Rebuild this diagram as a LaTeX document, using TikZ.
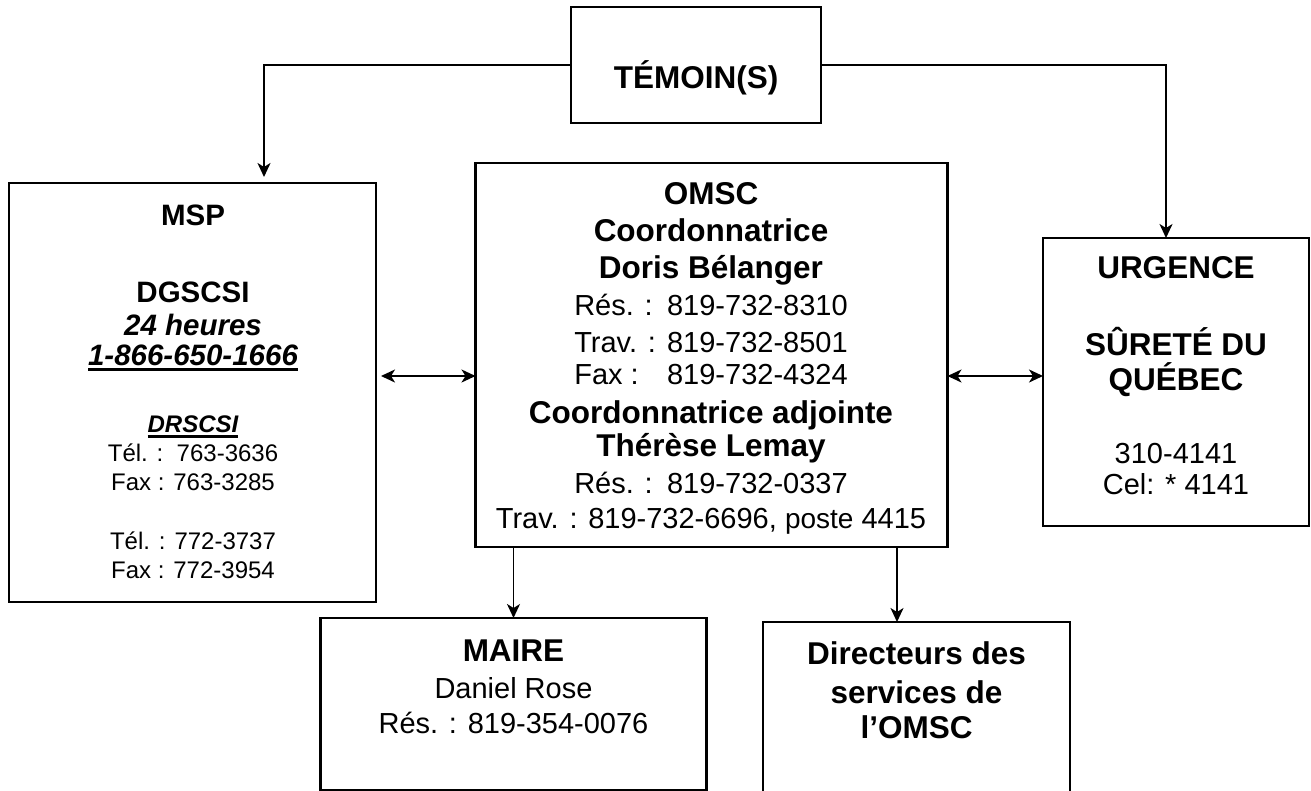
\documentclass[tikz,border=0pt]{standalone}
\usepackage{fontspec}
\setmainfont{Liberation Sans}
\usetikzlibrary{arrows.meta}
\newcommand\myul[1]{\setbox0\hbox{#1}\rlap{\rule[-5.5pt]{\wd0}{2.6pt}}\box0}
\begin{document}
\begin{tikzpicture}[x=1pt,y=-1pt,
  box/.style={draw, line width=2.2pt, rectangle, inner sep=0pt, outer sep=0pt},
  conn/.style={line width=1.9pt, -{Stealth[length=14pt,width=13pt,inset=4pt]}},
  dconn/.style={line width=1.9pt, {Stealth[length=14pt,width=13pt,inset=4pt]}-{Stealth[length=14pt,width=13pt,inset=4pt]}},
  rtxt/.style={font=\fontsize{29}{35}\selectfont, anchor=base, inner sep=0pt},
  btxt/.style={font=\fontsize{31.5}{36}\selectfont\bfseries, anchor=base, inner sep=0pt},
  mtxt/.style={font=\fontsize{29.5}{35}\selectfont\bfseries, anchor=base, inner sep=0pt},
  mitxt/.style={font=\fontsize{29.5}{35}\selectfont\bfseries\itshape, anchor=base, inner sep=0pt},
  stxt/.style={font=\fontsize{24}{29}\selectfont, anchor=base, inner sep=0pt}]
\useasboundingbox (0,0) rectangle (1311,790);
\fill[white] (0,0) rectangle (1311,790);

% boxes
\node[box, minimum width=250pt, minimum height=116pt] (tem) at (696,65) {};
\node[box, minimum width=367pt, minimum height=419pt] (msp) at (192.5,392.5) {};
\node[box, minimum width=472pt, minimum height=384pt] (omsc) at (711.5,355) {};
\node[box, minimum width=266pt, minimum height=288pt] (urg) at (1176,382) {};
\node[box, minimum width=386pt, minimum height=172pt] (maire) at (513.5,704) {};
\node[box, minimum width=307pt, minimum height=190pt] (dir) at (916.5,717) {};

% texts
\node[btxt] (temt) at (696,88) {TÉMOIN(S)};

\node[mtxt] (msp1) at (193,225) {MSP};
\node[mtxt] (msp2) at (193,302) {DGSCSI};
\node[mitxt] (msp3) at (193,335) {24 heures};
\node[mitxt] (msp4) at (193,365) {\myul{1-866-650-1666}};
\node[stxt, font=\fontsize{24}{29}\selectfont\bfseries\itshape] (msp5) at (193,432) {\myul{DRSCSI}};
\node[stxt] (msp6) at (193,461) {Tél. :~~763-3636};
\node[stxt] (msp7) at (193,490) {Fax : 763-3285};
\node[stxt] (msp8) at (193,549) {Tél. : 772-3737};
\node[stxt] (msp9) at (193,578) {Fax : 772-3954};

\node[btxt] (om1) at (711,204) {OMSC};
\node[btxt] (om2) at (711,241) {Coordonnatrice};
\node[btxt] (om3) at (711,278) {Doris Bélanger};
\node[rtxt] (om4) at (711,315) {\makebox[3.2em][l]{Rés. :}819-732-8310};
\node[rtxt] (om5) at (711,352) {\makebox[3.2em][l]{Trav. :}819-732-8501};
\node[rtxt] (om6) at (711,384) {\makebox[3.2em][l]{Fax :}819-732-4324};
\node[btxt] (om7) at (711,423) {Coordonnatrice adjointe};
\node[btxt] (om8) at (711,456) {Thérèse Lemay};
\node[rtxt] (om9) at (711,493) {\makebox[3.2em][l]{Rés. :}819-732-0337};
\node[rtxt] (om10) at (711,528) {Trav. : 819-732-6696, {\fontsize{28}{30}\selectfont poste} 4415};

\node[btxt] (ur1) at (1176,278) {URGENCE};
\node[btxt] (ur2) at (1176,355) {SÛRETÉ DU};
\node[btxt] (ur3) at (1176,390) {QUÉBEC};
\node[rtxt] (ur4) at (1176,463) {310-4141};
\node[rtxt] (ur5) at (1176,494) {Cel: * 4141};

\node[btxt] (ma1) at (513.5,661) {MAIRE};
\node[rtxt] (ma2) at (513.5,698) {Daniel Rose};
\node[rtxt] (ma3) at (513.5,733) {Rés. : 819-354-0076};

\node[btxt] (di1) at (916.5,664) {Directeurs des};
\node[btxt] (di2) at (916.5,703) {services de};
\node[btxt] (di3) at (916.5,738) {l’OMSC};

% connectors
\coordinate (mspx) at (264,0);
\coordinate (urgx) at (1166,0);
\coordinate (dirx) at (897,0);
\coordinate (arry) at (0,376);
\draw[conn, shorten >=6pt] (tem.west) -| (mspx |- msp.north);
\draw[conn] (tem.east) -| (urgx |- urg.north);
\draw[dconn, shorten <=5pt] (msp.east |- arry) -- (omsc.west |- arry);
\draw[dconn] (omsc.east |- arry) -- (urg.west |- arry);
\draw[conn] (maire.north |- omsc.south) -- (maire.north);
\draw[conn] (dirx |- omsc.south) -- (dirx |- dir.north);
\end{tikzpicture}
\end{document}
